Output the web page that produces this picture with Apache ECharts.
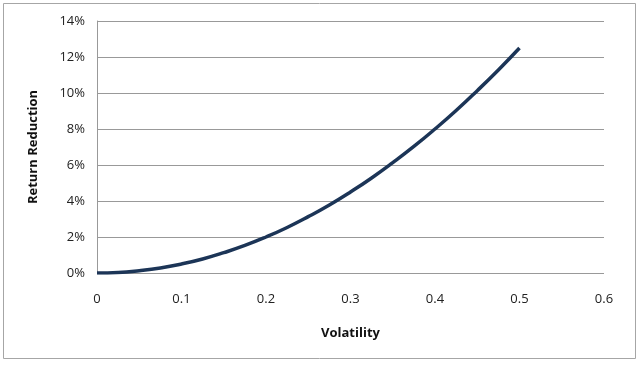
<!DOCTYPE html>
<html>
<head>
<meta charset="utf-8">
<script src="https://cdn.jsdelivr.net/npm/echarts@6/dist/echarts.min.js"></script>
<style>
  html, body { margin: 0; padding: 0; background: #fff; }
  #chart { width: 640px; height: 366px; }
</style>
</head>
<body>
<div id="chart"></div>
<script>
// volatility vs. return reduction (%)
const volatility = [0, 0.025, 0.05, 0.075, 0.1, 0.125, 0.15, 0.175, 0.2, 0.225, 0.25,
    0.275, 0.3, 0.325, 0.35, 0.375, 0.4, 0.425, 0.45, 0.475, 0.5];
const reduction = [0, 0.03, 0.13, 0.28, 0.5, 0.78, 1.13, 1.53, 2, 2.53, 3.13,
    3.78, 4.5, 5.28, 6.13, 7.03, 8, 9.03, 10.13, 11.28, 12.5];
const xTicks = [0, 0.1, 0.2, 0.3, 0.4, 0.5, 0.6];
const yTicks = [0, 2, 4, 6, 8, 10, 12, 14];

const chart = echarts.init(document.getElementById('chart'));

const labelFont = { fontFamily: 'Open Sans', fontSize: 13, color: '#222' };

chart.setOption({
    animation: false,
    graphic: [{
        type: 'rect',
        shape: { x: 3.5, y: 3.5, width: 632, height: 355 },
        style: { fill: 'none', stroke: '#a6a6a6', lineWidth: 1 }
    }],
    grid: { left: 97, right: 36, top: 21, bottom: 93 },
    xAxis: {
        type: 'value',
        min: xTicks[0],
        max: xTicks[xTicks.length - 1],
        interval: 0.1,
        name: 'Volatility',
        nameLocation: 'middle',
        nameGap: 54,
        nameTextStyle: { fontFamily: 'Open Sans', fontSize: 13, fontWeight: 'bold', color: '#111' },
        axisLine: { show: false },
        axisTick: { show: false },
        splitLine: { show: false },
        axisLabel: Object.assign({ margin: 20, formatter: v => String(+v.toFixed(1)) }, labelFont)
    },
    yAxis: {
        type: 'value',
        min: yTicks[0],
        max: yTicks[yTicks.length - 1],
        interval: 2,
        name: 'Return Reduction',
        nameLocation: 'middle',
        nameGap: 57,
        nameTextStyle: { fontFamily: 'Open Sans', fontSize: 13, fontWeight: 'bold', color: '#111' },
        axisLine: { show: true, lineStyle: { color: '#999', width: 1 } },
        axisTick: { show: false },
        splitLine: { lineStyle: { color: '#999', width: 1 } },
        axisLabel: Object.assign({ margin: 12, formatter: v => v + '%' }, labelFont)
    },
    series: [{
        type: 'line',
        data: volatility.map((v, i) => [v, reduction[i]]),
        smooth: true,
        showSymbol: false,
        lineStyle: { color: '#1c3557', width: 3.5 }
    }]
});
</script>
</body>
</html>
